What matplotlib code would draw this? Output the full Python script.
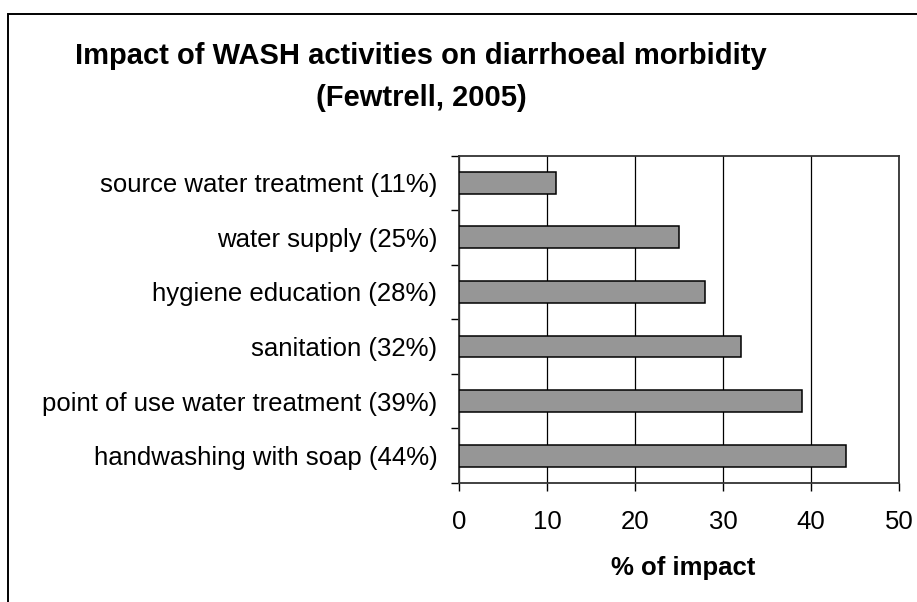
import matplotlib
matplotlib.use("Agg")
import matplotlib.pyplot as plt
from matplotlib.patches import Rectangle
import numpy as np

categories = [
    "source water treatment (11%)",
    "water supply (25%)",
    "hygiene education (28%)",
    "sanitation (32%)",
    "point of use water treatment (39%)",
    "handwashing with soap (44%)",
]
values = [11, 25, 28, 32, 39, 44]
xticks = [0, 10, 20, 30, 40, 50]
title_line1 = "Impact of WASH activities on diarrhoeal morbidity"
title_line2 = "(Fewtrell, 2005)"
xlabel = "% of impact"

plt.rcParams['font.family'] = ['Liberation Sans', 'DejaVu Sans']

fig = plt.figure(figsize=(9.17, 6.02), dpi=100)
fig.patch.set_facecolor('white')

# outer chart border (top and left visible)
fig.patches.append(Rectangle((8/917, -0.2), 1.2, (602-14)/602 + 0.2,
                             transform=fig.transFigure, fill=False,
                             edgecolor='black', linewidth=1.4, zorder=0))

ax = fig.add_axes([459/917, 119/602, 440/917, 327.5/602])

n = len(categories)
ypos = np.arange(n)
ax.barh(ypos, values, height=0.4, color='#969696', edgecolor='black',
        linewidth=1.1, zorder=3)
ax.set_ylim(n - 0.5, -0.5)
ax.set_xlim(0, 50)

ax.set_yticks(ypos)
ax.set_yticklabels(categories, fontsize=18.5)
ax.set_yticks(np.arange(n + 1) - 0.5, minor=True)
ax.tick_params(axis='y', which='major', length=0, pad=15.5)
ax.tick_params(axis='y', which='minor', length=5.5, width=1.0, direction='out')

ax.set_xticks(xticks)
ax.set_xticklabels([str(t) for t in xticks], fontsize=18.5)
ax.tick_params(axis='x', which='major', length=5.5, width=1.0, direction='out', pad=14)

ax.xaxis.grid(True, color='black', linewidth=0.9, zorder=0)
ax.set_axisbelow(True)
for s in ax.spines.values():
    s.set_color('#333333')
    s.set_linewidth(1.3)

ax.set_xlabel(xlabel, fontsize=18.5, fontweight='bold')
ax.xaxis.set_label_coords((683-459)/440, (483-575)/327.5)
ax.xaxis.label.set_va('baseline')

fig.text(421/917, (602-64)/602, title_line1, ha='center', va='baseline',
         fontsize=21, fontweight='bold')
fig.text(421/917, (602-106)/602, title_line2, ha='center', va='baseline',
         fontsize=21, fontweight='bold')

fig.savefig('out.png', dpi=100, facecolor='white')
